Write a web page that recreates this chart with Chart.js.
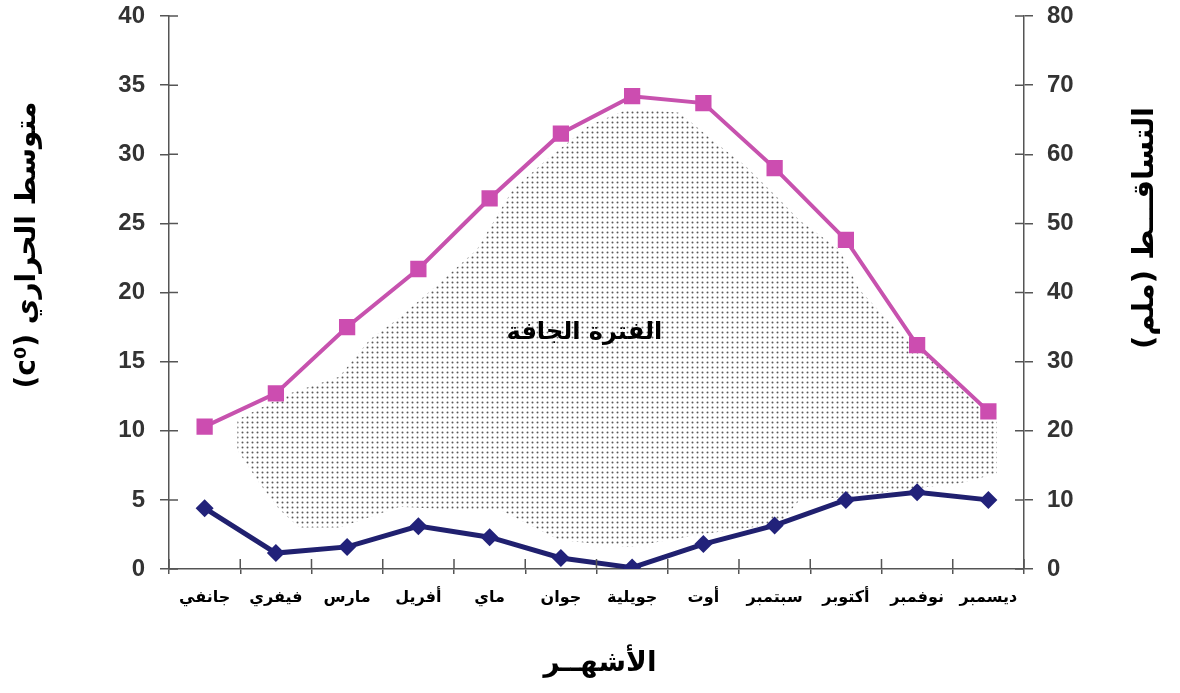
<!DOCTYPE html>
<html>
<head>
<meta charset="utf-8">
<script src="https://cdn.jsdelivr.net/npm/chart.js@4/dist/chart.umd.min.js"></script>
<style>
  html, body { margin: 0; background: #fff; }
  #wrap { width: 1180px; height: 693px; }
</style>
</head>
<body>
<div id="wrap"><canvas id="chart"></canvas></div>
<script>
const months = ['جانفي', 'فيفري', 'مارس', 'أفريل', 'ماي', 'جوان', 'جويلية', 'أوت', 'سبتمبر', 'أكتوبر', 'نوفمبر', 'ديسمبر'];
// average temperature (left axis, °C)
const tempValues = [10.3, 12.7, 17.5, 21.7, 26.8, 31.5, 34.2, 33.7, 29.0, 23.8, 16.2, 11.4];
// precipitation (right axis, mm)
const rainValues = [8.8, 2.3, 3.2, 6.2, 4.6, 1.6, 0.2, 3.6, 6.3, 10.0, 11.1, 10.0];
// dry period outline, x in month index, y in °C
const dryX = [0.46, 1.19, 1.89, 2.32, 2.74, 3.30, 3.82, 4.32, 4.80, 5.40, 5.96, 6.67, 7.13, 7.58, 8.07, 8.35, 8.91, 9.19, 9.75, 10.32, 10.88, 11.12,
              11.12, 10.6, 9.75, 9.05, 8.35, 8.07, 6.95, 5.96, 4.98, 4.14, 3.44, 2.74, 1.89, 1.33, 1.05, 0.77, 0.46, 0.46];
const dryY = [10.8, 12.7, 13.9, 16.6, 18.2, 20.7, 23.1, 27.4, 29.6, 32.1, 33.3, 33.0, 31.0, 29.2, 26.7, 25.2, 23.1, 20.2, 17.1, 14.6, 11.7, 10.8,
              6.9, 6.2, 5.7, 5.2, 5.0, 3.3, 2.5, 1.6, 2.1, 4.3, 4.3, 4.5, 3.0, 3.0, 4.3, 6.2, 8.6, 10.8];

const tempLabel = 'متوسط الحراري (c⁰)';
const rainLabel = 'التساقـــط (ملم)';
const xLabel = 'الأشهــر';
const dryLabel = 'الفترة الجافة';

function dotPattern() {
  const c = document.createElement('canvas');
  c.width = 5; c.height = 5;
  const g = c.getContext('2d');
  g.fillStyle = '#5a5a5a';
  g.beginPath();
  g.arc(2.5, 2.5, 1.0, 0, Math.PI * 2);
  g.fill();
  return g.createPattern(c, 'repeat');
}

const axisColor = '#555';
const numFont = { family: '"Liberation Sans", Arial, sans-serif', size: 24, weight: 'bold' };

function fitY(width) {
  return s => {
    s.width = width;
    s.paddingTop = 0;
    s.paddingBottom = 0;
  };
}

const decor = {
  id: 'decor',
  afterDraw(chart) {
    const { ctx, scales } = chart;
    const x = scales.x, yT = scales.yT, yP = scales.yP, xm = scales.xm;
    ctx.save();
    ctx.strokeStyle = axisColor;
    ctx.lineWidth = 1.5;
    ctx.beginPath();
    // inner halves of the tick marks
    yT.ticks.forEach(t => {
      const py = yT.getPixelForValue(t.value);
      ctx.moveTo(yT.right, py); ctx.lineTo(yT.right + 9, py);
    });
    yP.ticks.forEach(t => {
      const py = yP.getPixelForValue(t.value);
      ctx.moveTo(yP.left, py); ctx.lineTo(yP.left - 9, py);
    });
    for (let i = 0; i <= months.length; i++) {
      const px = x.left + i * (x.width / months.length);
      ctx.moveTo(px, x.top); ctx.lineTo(px, x.top - 10);
    }
    ctx.stroke();

    ctx.fillStyle = '#000';
    ctx.direction = 'rtl';
    ctx.textAlign = 'center';
    ctx.textBaseline = 'middle';
    ctx.font = 'bold 24px "DejaVu Sans"';
    ctx.fillText(dryLabel, xm.getPixelForValue(5.33), yT.getPixelForValue(17.1));

    ctx.font = 'bold 28px "DejaVu Sans"';
    ctx.fillText(xLabel, 600, 664);

    ctx.save();
    ctx.translate(28, 245);
    ctx.rotate(-Math.PI / 2);
    ctx.font = 'bold 28px "DejaVu Sans"';
    ctx.fillText(tempLabel, 0, 0);
    ctx.restore();

    ctx.save();
    ctx.translate(1145, 228);
    ctx.rotate(-Math.PI / 2);
    ctx.font = 'bold 29px "DejaVu Sans"';
    ctx.fillText(rainLabel, 0, 0);
    ctx.restore();
    ctx.restore();
  }
};

const ctx = document.getElementById('chart').getContext('2d');
new Chart(ctx, {
  type: 'line',
  data: {
    labels: months,
    datasets: [
      {
        label: 'dry',
        data: dryX.map((v, i) => ({ x: v, y: dryY[i] })),
        xAxisID: 'xm',
        yAxisID: 'yT',
        borderWidth: 0,
        borderColor: 'rgba(0,0,0,0)',
        pointRadius: 0,
        backgroundColor: dotPattern(),
        fill: 'shape',
        order: 3
      },
      {
        label: 'temp',
        data: tempValues,
        yAxisID: 'yT',
        borderColor: '#c752ae',
        backgroundColor: '#cc4db0',
        borderWidth: 4,
        pointStyle: 'rect',
        pointRadius: 11.5,
        pointBorderWidth: 0,
        fill: false,
        order: 1
      },
      {
        label: 'rain',
        data: rainValues,
        yAxisID: 'yP',
        borderColor: '#20206f',
        backgroundColor: '#22227a',
        borderWidth: 5,
        pointStyle: 'rectRot',
        pointRadius: 9,
        pointBorderWidth: 0,
        fill: false,
        order: 1
      }
    ]
  },
  options: {
    responsive: true,
    maintainAspectRatio: false,
    animation: false,
    layout: { padding: { top: 16, left: 0, right: 0, bottom: 0 } },
    plugins: {
      legend: { display: false },
      tooltip: { enabled: false }
    },
    scales: {
      x: {
        type: 'category',
        offset: true,
        grid: { drawOnChartArea: false, offset: true, color: axisColor, lineWidth: 1.5, tickLength: 5 },
        border: { color: axisColor, width: 1.5 },
        ticks: { color: '#000', padding: 14, maxRotation: 0, autoSkip: false,
                 font: { family: '"DejaVu Sans"', size: 16, weight: 'bold' } },
        afterFit: s => { s.height = 124; s.paddingLeft = 0; s.paddingRight = 0; }
      },
      xm: {
        type: 'linear',
        display: false,
        min: -0.5,
        max: 11.5
      },
      yT: {
        position: 'left',
        min: 0,
        max: 40,
        ticks: { stepSize: 5, color: '#333', padding: 15, font: numFont },
        grid: { drawOnChartArea: false, color: axisColor, lineWidth: 1.5, tickLength: 9 },
        border: { color: axisColor, width: 1.5 },
        afterFit: fitY(169)
      },
      yP: {
        position: 'right',
        min: 0,
        max: 80,
        ticks: { stepSize: 10, color: '#333', padding: 14, font: numFont },
        grid: { drawOnChartArea: false, color: axisColor, lineWidth: 1.5, tickLength: 9 },
        border: { color: axisColor, width: 1.5 },
        afterFit: fitY(156)
      }
    }
  },
  plugins: [decor]
});
</script>
</body>
</html>
